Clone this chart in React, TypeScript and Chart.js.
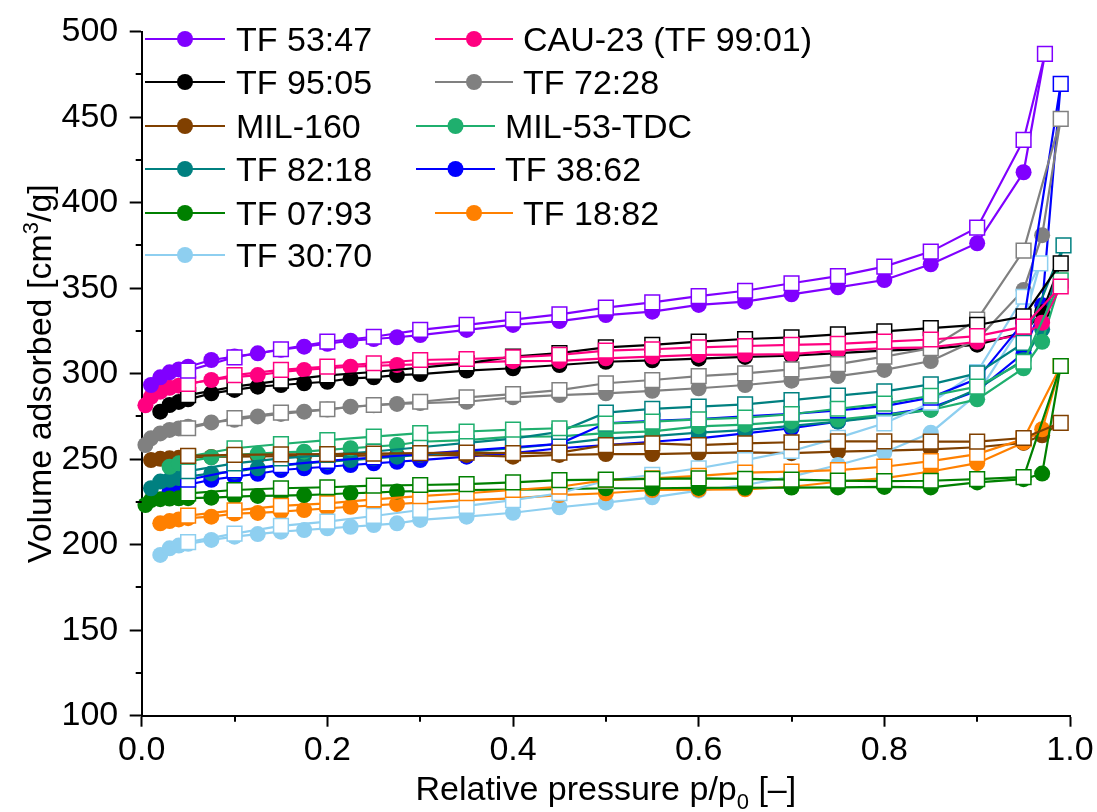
import React, { useEffect, useRef } from "react";
import { Chart, registerables } from "chart.js";

Chart.register(...registerables);

const FONT = '"Liberation Sans", Arial, Helvetica, sans-serif';

// Relative pressures of the adsorption branch (filled circles) and desorption branch (open squares)
const ADS_P = [0.004, 0.01, 0.02, 0.03, 0.04, 0.05, 0.075, 0.1, 0.125, 0.15, 0.175, 0.2, 0.225, 0.25, 0.275, 0.3, 0.35, 0.4, 0.45, 0.5, 0.55, 0.6, 0.65, 0.7, 0.75, 0.8, 0.85, 0.9, 0.95, 0.97];
const DES_P = [0.95, 0.9, 0.85, 0.8, 0.75, 0.7, 0.65, 0.6, 0.55, 0.5, 0.45, 0.4, 0.35, 0.3, 0.25, 0.2, 0.15, 0.1, 0.05];

// Tick values
const X_TICK_STEP = 0.2;
const Y_TICK_STEP = 50;
const X_MINOR = [0.1, 0.3, 0.5, 0.7, 0.9];
const Y_MINOR = [125, 175, 225, 275, 325, 375, 425, 475];

// TF 53:47
const TF5347_ADS = [null, 293.4, 297.9, 300.8, 302.5, 304.1, 308, 310, 311.9, 314, 315.8, 317.5, 319.3, 320.3, 321.3, 322.6, 325.6, 328.5, 330.8, 334.3, 336.3, 340.2, 342.1, 346.4, 350.5, 354.8, 364, 376.3, 417.8, null];
const TF5347_TOP = [0.973, 487];
const TF5347_DES = [436.7, 385.4, 371.4, 362.6, 357.1, 352.9, 348.5, 345.4, 341.7, 338.6, 334.7, 331.6, 328.5, 325.6, 321.6, 318.7, 314.3, 309.6, 301.8];

// CAU-23 (TF 99:01)
const CAU23_ADS = [281.5, 286.5, 289.5, 291.8, 293, 294.2, 296.3, 298, 299.2, 301, 302.2, 303.2, 304.1, 304.6, 305.1, 305.5, 306.5, 307.3, 307.5, 309, 310, 311, 311.2, 311.5, 313.5, 315, 315.4, 318.7, 322.6, 329.8];
const CAU23_TOP = [0.99, 351];
const CAU23_DES = [327.5, 322, 320, 318.7, 317.4, 316.8, 316.2, 315.4, 314.3, 313.5, 311, 309.5, 308.6, 308, 306.1, 304.1, 302.2, 299.2, 294];

// TF 95:05
const TF9505_ADS = [null, null, 277.8, 281.7, 283.5, 285, 288.5, 290.5, 292.4, 293.4, 294.4, 295.3, 297.3, 297.9, 299.2, 299.8, 301.8, 303.2, 305.1, 307, 307.8, 308.8, 309.8, 310.5, 312, 313.5, 314.5, 317, 324, 336];
const TF9505_TOP = [0.99, 364.5];
const TF9505_DES = [333.5, 328.5, 326.6, 324.8, 323, 321.3, 320.3, 318.7, 316.8, 315.4, 312, 310, 306, 303.5, 301, 299, 296, 292.4, 287.5];

// TF 72:28
const TF7228_ADS = [258.3, 262.2, 265.1, 267.1, 268, 269, 271.5, 273, 275, 276.5, 277.8, 279, 280.7, 281.5, 282.3, 282.8, 283.6, 286.2, 287.5, 288.5, 290, 291.5, 293.4, 295.9, 298.6, 302.2, 307.4, 320, 349, 381];
const TF7228_TOP = [0.99, 449];
const TF7228_DES = [372, 331.6, 314.9, 310, 305.6, 302.5, 300.2, 298.6, 296.3, 294.4, 290.4, 288.1, 286.2, 283.6, 281.7, 279.2, 277.2, 274, 268.1];

// MIL-160
const MIL160_ADS = [null, 249.5, 250.2, 250.5, 250.8, 251, 251.3, 251.5, 251.7, 251.8, 252, 252, 252, 252.2, 252.3, 252.4, 252.5, 251.5, 252.5, 253, 253, 253.5, 254, 253.5, 254.4, 255, 255.8, 257, 259.5, 264];
const MIL160_TOP = [0.99, 271.3];
const MIL160_DES = [262.4, 260.3, 260.3, 260.4, 260.5, 259.9, 259.3, 258.2, 259.3, 258.2, 253.8, 253.5, 253.9, 253.5, 253.3, 253, 252.8, 252.5, 252];

// MIL-53-TDC
const MIL53_ADS = [null, null, null, 245.6, 247.6, 248.7, 251.1, 252.5, 253.3, 254, 254.4, 255.4, 256.4, 257.3, 258.3, 260.2, 261.2, 263.2, 263.3, 265.3, 266.3, 269.2, 270.2, 272.1, 273.2, 276, 278.8, 285, 303.2, 318.7];
const MIL53_TOP = [0.99, 354.6];
const MIL53_DES = [307, 292.4, 287.1, 282.5, 279.5, 276.3, 274.3, 273.3, 272, 270.8, 268.1, 267.3, 266.2, 265.2, 263.2, 261.2, 258.9, 256.4, 251.5];

// TF 82:18
const TF8218_ADS = [null, 233, 236.9, 238, 239, 239.8, 241.7, 242.7, 244.7, 246.2, 247.6, 248.5, 249.5, 250.5, 251.5, 252.5, 254.4, 256.4, 259, 262, 263.5, 265.5, 267, 269.5, 272, 275, 279, 291, 308, 326];
const TF8218_TOP = [0.993, 375];
const TF8218_DES = [318, 300.2, 293.8, 289.7, 287.2, 284.6, 282.1, 280.7, 279.4, 277.2, 266, 262, 259.5, 257, 254.5, 252.5, 250.5, 247.6, 243];

// TF 38:62
const TF3862_ADS = [null, null, null, 231.1, 233.5, 235.1, 238, 239.8, 241.5, 243.7, 244.7, 245.6, 246.6, 247.6, 248.5, 249.5, 251.5, 253.5, 256.4, 258.3, 260.2, 262.2, 265.1, 268.1, 272, 276, 280, 290, 312, 340];
const TF3862_TOP = [0.99, 469.5];
const TF3862_DES = [330, 297, 286, 281, 278.5, 276.5, 275, 273.5, 272.5, 271, 259, 257, 255, 253, 251, 249, 246.5, 243.5, 238];

// TF 07:93
const TF0793_ADS = [223.2, 226.1, 226.6, 227, 227.1, 227.2, 227.5, 228.1, 228.5, 228.7, 229, 229.5, 230.1, 230.5, 231.1, 231.3, 232, 232.2, 232.5, 233, 233, 233.2, 233.3, 233.4, 233.5, 233.8, 233.5, 236.4, 238.3, 241.6];
const TF0793_TOP = [0.99, 304.5];
const TF0793_DES = [239.5, 238.3, 237.4, 237.2, 237.5, 238, 238.5, 238.8, 238.5, 238, 237.8, 236.5, 235.4, 234.9, 234.5, 233.6, 233, 232, 230];

// TF 18:82
const TF1882_ADS = [null, null, 212.5, 213.8, 214.8, 215.5, 216.4, 218.2, 218.6, 219.3, 220.3, 221.2, 222.2, 223, 223.8, 224.6, 226.1, 227.1, 229, 230.1, 232, 232.2, 232.4, 233.9, 236.8, 238.9, 242.8, 247.7, 259.8, 267.5];
const TF1882_TOP = [0.99, 304.5];
const TF1882_DES = [261.8, 253, 248.9, 245.6, 243.6, 242.7, 242.1, 240.2, 238.8, 237.8, 233.9, 232, 230.1, 228.4, 226.5, 224.2, 222.7, 220.1, 217];

// TF 30:70
const TF3070_ADS = [null, null, 194, 197.9, 199.5, 200.5, 202.8, 204.7, 206.2, 207.6, 208.6, 209.6, 210.5, 211.5, 212.5, 214.5, 216.4, 218.7, 221.9, 224.6, 227.7, 231.6, 234.9, 239.8, 246.6, 253.9, 265.5, 288, 330, null];
const TF3070_TOP = [0.968, 364.5];
const TF3070_DES = [345, 301, 283, 271, 262.5, 254.8, 249.5, 244.7, 240.8, 237.4, 230.1, 226.1, 222.7, 220.3, 216.8, 213.5, 211, 206.5, 201.5];

const NAMES = ["TF 53:47", "CAU-23 (TF 99:01)", "TF 95:05", "TF 72:28", "MIL-160", "MIL-53-TDC", "TF 82:18", "TF 38:62", "TF 07:93", "TF 18:82", "TF 30:70"];
const COLORS = ["#8000FF", "#FF0080", "#000000", "#808080", "#804000", "#1FAF6E", "#008080", "#0000FF", "#008000", "#FF8000", "#8ECFF0"];
const ADS = [TF5347_ADS, CAU23_ADS, TF9505_ADS, TF7228_ADS, MIL160_ADS, MIL53_ADS, TF8218_ADS, TF3862_ADS, TF0793_ADS, TF1882_ADS, TF3070_ADS];
const DES = [TF5347_DES, CAU23_DES, TF9505_DES, TF7228_DES, MIL160_DES, MIL53_DES, TF8218_DES, TF3862_DES, TF0793_DES, TF1882_DES, TF3070_DES];
const TOPS = [TF5347_TOP, CAU23_TOP, TF9505_TOP, TF7228_TOP, MIL160_TOP, MIL53_TOP, TF8218_TOP, TF3862_TOP, TF0793_TOP, TF1882_TOP, TF3070_TOP];

// stacking of adsorption branches (0 = topmost)
const ADS_LAYER = [0, 1, 8, 2, 9, 3, 4, 10, 5, 6, 7];

// legend layout: [series index, line start, line end, text x, row]
const LEGEND_LAYOUT = [
  [0, 145, 225, 236, 0], [2, 145, 225, 236, 1], [4, 145, 225, 236, 2], [6, 145, 225, 236, 3], [8, 145, 225, 236, 4], [10, 145, 225, 236, 5],
  [1, 435, 513, 523, 0], [3, 435, 513, 523, 1], [5, 416, 495, 505, 2], [7, 416, 495, 505, 3], [9, 435, 513, 523, 4],
];
const LEGEND_ROWS = [39, 82, 126, 169, 213, 255];

const CIRCLE_R = 8;
const SQUARE_R = 10.4;
const LINE_W = 2.2;

type Piece = { t: string; sub?: boolean; sup?: boolean };

function drawRich(ctx: CanvasRenderingContext2D, pieces: Piece[], cx: number, baseY: number, size: number) {
  const small = Math.round(size * 0.66);
  const widths = pieces.map((p) => {
    ctx.font = `${p.sub || p.sup ? small : size}px ${FONT}`;
    return ctx.measureText(p.t).width;
  });
  const total = widths.reduce((a, b) => a + b, 0);
  let x = cx - total / 2;
  ctx.textAlign = "left";
  ctx.textBaseline = "alphabetic";
  pieces.forEach((p, i) => {
    ctx.font = `${p.sub || p.sup ? small : size}px ${FONT}`;
    const dy = p.sub ? size * 0.27 : p.sup ? -size * 0.38 : 0;
    ctx.fillText(p.t, x, baseY + dy);
    x += widths[i];
  });
}

const decorPlugin = {
  id: "decor",
  afterDraw(chart: any) {
    const ctx: CanvasRenderingContext2D = chart.ctx;
    const xs = chart.scales.x;
    const ys = chart.scales.y;
    const area = chart.chartArea;
    ctx.save();
    ctx.strokeStyle = "#000";
    ctx.lineWidth = 2;
    Y_MINOR.forEach((v) => {
      const y = Math.round(ys.getPixelForValue(v));
      ctx.beginPath();
      ctx.moveTo(area.left - 6, y);
      ctx.lineTo(area.left, y);
      ctx.stroke();
    });
    X_MINOR.forEach((v) => {
      const x = Math.round(xs.getPixelForValue(v));
      ctx.beginPath();
      ctx.moveTo(x, area.bottom);
      ctx.lineTo(x, area.bottom + 6);
      ctx.stroke();
    });

    // axis titles
    ctx.fillStyle = "#000";
    drawRich(ctx, [{ t: "Relative pressure p/p" }, { t: "0", sub: true }, { t: " [–]" }], (area.left + area.right) / 2, 800, 34);
    ctx.save();
    ctx.translate(51, (area.top + area.bottom) / 2);
    ctx.rotate(-Math.PI / 2);
    drawRich(ctx, [{ t: "Volume adsorbed [cm" }, { t: "3", sup: true }, { t: "/g]" }], 0, 0, 34);
    ctx.restore();

    // legend
    LEGEND_LAYOUT.forEach(([si, x0, x1, tx, row]) => {
      const y = LEGEND_ROWS[row];
      const c = COLORS[si];
      ctx.strokeStyle = c;
      ctx.lineWidth = LINE_W;
      ctx.beginPath();
      ctx.moveTo(x0, y);
      ctx.lineTo(x1, y);
      ctx.stroke();
      ctx.fillStyle = c;
      ctx.beginPath();
      ctx.arc((x0 + x1) / 2, y, CIRCLE_R, 0, Math.PI * 2);
      ctx.fill();
      ctx.fillStyle = "#000";
      ctx.font = `34px ${FONT}`;
      ctx.textAlign = "left";
      ctx.textBaseline = "alphabetic";
      ctx.fillText(NAMES[si], tx, y + 12.3);
    });
    ctx.restore();
  },
};

function buildAds(vals: (number | null)[], top: number[]) {
  const pts: { x: number; y: number }[] = [];
  ADS_P.forEach((p, i) => {
    const v = vals[i];
    if (v != null) pts.push({ x: p, y: v });
  });
  pts.push({ x: top[0], y: top[1] });
  return pts;
}

function buildDes(vals: number[], top: number[]) {
  return [{ x: top[0], y: top[1] }, ...DES_P.map((p, i) => ({ x: p, y: vals[i] }))];
}

export default function App() {
  const ref = useRef<HTMLCanvasElement>(null);

  useEffect(() => {
    if (!ref.current) return;
    const datasets: any[] = [];
    NAMES.forEach((name, i) => {
      const ads = buildAds(ADS[i], TOPS[i]);
      datasets.push({
        label: name + " adsorption",
        data: ads,
        showLine: true,
        clip: false,
        borderColor: COLORS[i],
        backgroundColor: COLORS[i],
        borderWidth: LINE_W,
        pointStyle: "circle",
        pointRadius: ads.map((_, k) => (k === ads.length - 1 ? 0 : CIRCLE_R)),
        pointBorderWidth: 0,
        pointBackgroundColor: COLORS[i],
        pointBorderColor: COLORS[i],
        order: 20 + ADS_LAYER[i],
      });
      datasets.push({
        label: name + " desorption",
        data: buildDes(DES[i], TOPS[i]),
        showLine: true,
        clip: false,
        borderColor: COLORS[i],
        backgroundColor: "#FFFFFF",
        borderWidth: LINE_W,
        pointStyle: "rect",
        pointRadius: SQUARE_R,
        pointBorderWidth: 1.5,
        pointBackgroundColor: "#FFFFFF",
        pointBorderColor: COLORS[i],
        order: i,
      });
    });

    const chart = new Chart(ref.current, {
      type: "scatter",
      data: { datasets },
      options: {
        animation: false,
        responsive: true,
        maintainAspectRatio: false,
        devicePixelRatio: 1,
        events: [],
        layout: { padding: { top: 31.7, right: 27, bottom: 0, left: 0 } },
        plugins: { legend: { display: false }, tooltip: { enabled: false }, title: { display: false } },
        scales: {
          x: {
            type: "linear",
            position: "bottom",
            min: 0,
            max: 1,
            ticks: {
              stepSize: X_TICK_STEP,
              callback: (v: any) => Number(v).toFixed(1),
              font: { family: FONT, size: 34 },
              color: "#000",
              padding: 4,
              maxRotation: 0,
              autoSkip: false,
            },
            grid: { display: true, drawOnChartArea: false, drawTicks: true, tickLength: 11, tickWidth: 2, tickColor: "#000" },
            border: { display: true, color: "#000", width: 2 },
            afterFit: (s: any) => {
              s.height = 96.3;
              s.paddingLeft = 0;
              s.paddingRight = 0;
            },
          },
          y: {
            type: "linear",
            position: "left",
            min: 100,
            max: 500,
            ticks: {
              stepSize: Y_TICK_STEP,
              font: { family: FONT, size: 34 },
              color: "#000",
              padding: 11.5,
            },
            grid: { display: true, drawOnChartArea: false, drawTicks: true, tickLength: 12, tickWidth: 2, tickColor: "#000" },
            border: { display: true, color: "#000", width: 2 },
            afterFit: (s: any) => {
              s.width = 141.7;
              s.paddingTop = 0;
              s.paddingBottom = 0;
            },
          },
        },
      } as any,
      plugins: [decorPlugin],
    });
    return () => chart.destroy();
  }, []);

  return (
    <div style={{ position: "fixed", left: 0, top: 0, width: 1097, height: 812, background: "#fff" }}>
      <canvas ref={ref} />
    </div>
  );
}
